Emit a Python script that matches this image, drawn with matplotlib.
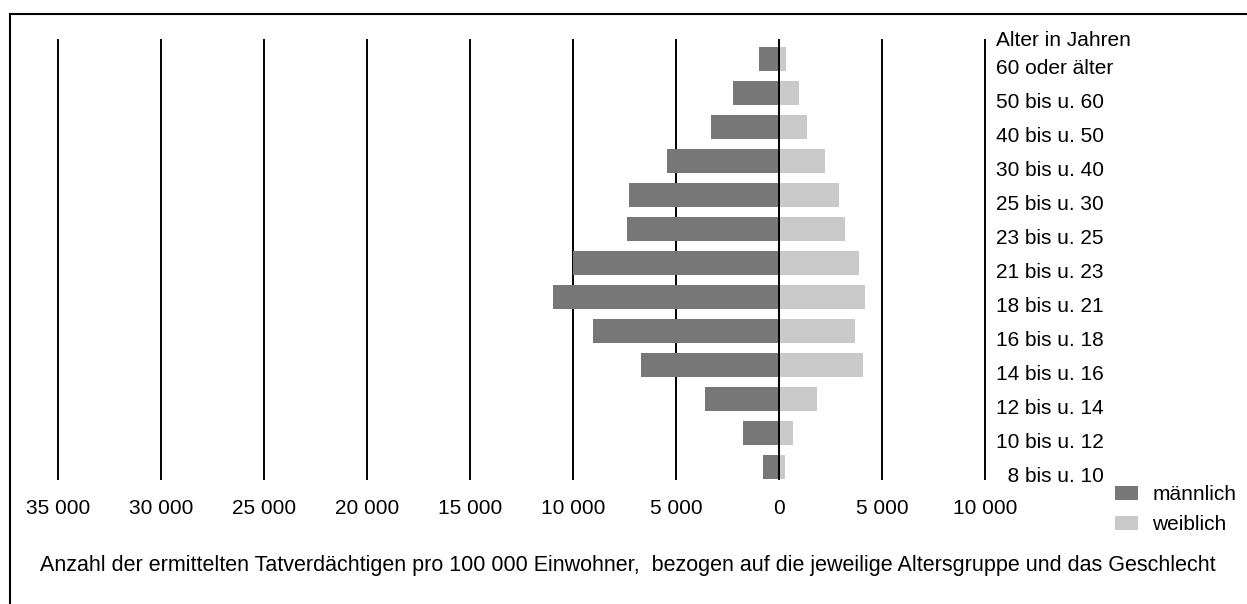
import matplotlib.pyplot as plt
from matplotlib.patches import Patch, Rectangle

plt.rcParams['font.family'] = ['Liberation Sans', 'DejaVu Sans']

# age groups from youngest (bottom) to oldest (top)
ages = ["\u20078 bis u. 10", "10 bis u. 12", "12 bis u. 14", "14 bis u. 16",
        "16 bis u. 18", "18 bis u. 21", "21 bis u. 23", "23 bis u. 25",
        "25 bis u. 30", "30 bis u. 40", "40 bis u. 50", "50 bis u. 60",
        "60 oder älter"]
male = [780, 1750, 3580, 6690, 9020, 10960, 9990, 7360, 7270, 5420, 3300, 2230, 980]
female = [280, 670, 1830, 4060, 3670, 4160, 3880, 3190, 2910, 2220, 1340, 970, 360]
grid_x = [-35000, -30000, -25000, -20000, -15000, -10000, -5000, 0, 5000, 10000]
grid_labels = ["35 000", "30 000", "25 000", "20 000", "15 000", "10 000",
               "5 000", "0", "5 000", "10 000"]

W, H = 1247, 604
fig = plt.figure(figsize=(W / 100, H / 100), dpi=100)

# frame around the whole graphic
fig.patches.append(Rectangle((10 / W, -0.05), 1.2, (H - 14) / H + 0.05,
                             transform=fig.transFigure, fill=False,
                             edgecolor="black", linewidth=1.5))

ax = fig.add_axes([58 / W, (H - 479) / H, 927 / W, 439 / H])
ax.set_xlim(-35000, 10000)
ax.set_ylim(-0.35, 12.56)
ax.axis("off")

y = range(len(ages))
ax.barh(y, [-m for m in male], height=0.7, color="#777777", zorder=2)
ax.barh(y, female, height=0.7, color="#c9c9c9", zorder=2)

for gx in grid_x:
    ax.axvline(gx, color="black", linewidth=1.4, zorder=3 if gx == 0 else 1,
               clip_on=False)

for gx, lab in zip(grid_x, grid_labels):
    ax.annotate(lab, (gx, 0), xycoords=("data", "axes fraction"),
                xytext=(0, -30), textcoords="offset pixels",
                ha="center", va="center", fontsize=15)

for i, lab in enumerate(ages):
    ax.annotate(lab, (10000, i), xytext=(11, -9), textcoords="offset pixels",
                ha="left", va="center", fontsize=15)
ax.annotate("Alter in Jahren", (10000, 1), xycoords=("data", "axes fraction"),
            xytext=(11, 0), textcoords="offset pixels",
            ha="left", va="center", fontsize=15)

handles = [Patch(facecolor="#777777", label="männlich"),
           Patch(facecolor="#c9c9c9", label="weiblich")]
fig.legend(handles=handles, loc="upper left",
           bbox_to_anchor=(1115 / W, (H - 485) / H), frameon=False,
           fontsize=15, handlelength=1.1, handleheight=0.65,
           handletextpad=0.7, labelspacing=0.55, borderaxespad=0,
           borderpad=0)

fig.text(628 / W, (H - 566) / H,
         "Anzahl der ermittelten Tatverdächtigen pro 100 000 Einwohner,  "
         "bezogen auf die jeweilige Altersgruppe und das Geschlecht",
         ha="center", va="center", fontsize=15.5)

fig.savefig("out.png", dpi=100)
